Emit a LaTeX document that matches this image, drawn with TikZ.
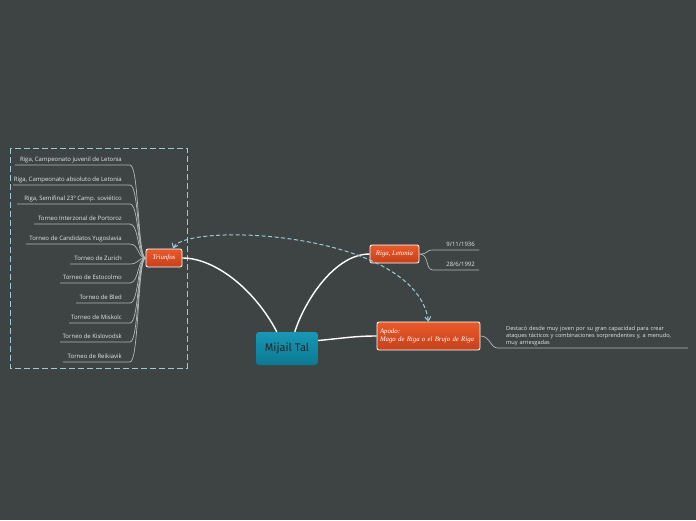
\documentclass[tikz,border=0pt]{standalone}
\usepackage{fontspec}
\setmainfont{Open Sans}
\newfontfamily\handfont{Liberation Serif}
\newfontfamily\titlefont{Fira Sans}
\usetikzlibrary{arrows.meta}
\definecolor{bgcol}{RGB}{62,68,68}
\definecolor{txtcol}{RGB}{228,230,230}
\definecolor{linecol}{RGB}{178,184,184}
\definecolor{dashcol}{RGB}{160,201,214}
\definecolor{orangetop}{RGB}{234,90,42}
\definecolor{orangebot}{RGB}{196,64,28}
\definecolor{tealtop}{RGB}{24,152,182}
\definecolor{tealbot}{RGB}{12,120,146}

\begin{document}
\begin{tikzpicture}[x=1pt, y=-1pt, every node/.style={font=\fontsize{6}{7}\selectfont, text=txtcol, inner sep=0pt},
	topic/.style={draw=white, line width=0.8pt, rounded corners=2pt, top color=orangetop, bottom color=orangebot, font=\handfont\itshape\fontsize{6.8}{7.8}\selectfont, text=white},
	central/.style={rounded corners=3pt, top color=tealtop, bottom color=tealbot, minimum width=62pt, minimum height=33pt, font=\titlefont\fontsize{11}{13}\selectfont, text=black!85},
	branch/.style={linecol, line width=0.7pt},
	mainline/.style={white, line width=1.4pt}]
	\fill[bgcol] (0,0) rectangle (696,520);
	\useasboundingbox (0,0) rectangle (696,520);
	\draw[dashcol, line width=1pt, dash pattern=on 6pt off 3pt] (10,148) rectangle (187,368);
	\node[central] (tal) at (287,348.5) {Mijail Tal};
	\node[topic, minimum width=36pt, minimum height=18pt] (triunfos) at (164,258) {Triunfos};
	\node[topic, minimum width=49pt, minimum height=18pt] (riga) at (394.5,254) {Riga, Letonia};
	\node[topic, minimum width=103pt, minimum height=28pt, align=left, text width=97pt] (apodo) at (428.5,336) {Apodo:\\Mago de Riga o el Brujo de Riga};
	\foreach \i/\y/\xl/\name in {1/165/15/{Riga, Campeonato juvenil de Letonia}, 2/185/13/{Riga, Campeonato absoluto de Letonia}, 3/204/17/{Riga, Semifinal 23º Camp. soviético}, 4/224/34/{Torneo Interzonal de Portoroz}, 5/244/26/{Torneo de Candidatos Yugoslavia}, 6/264/70/{Torneo de Zurich}, 7/283/60/{Torneo de Estocolmo}, 8/303/76/{Torneo de Bled}, 9/323/69/{Torneo de Miskolc}, 10/342/60/{Torneo de Kislovodsk}, 11/362/63/{Torneo de Reikiavik}} {
		\coordinate (ul\i) at (\xl,\y);
		\coordinate (ur\i) at (130,\y);
		\node[anchor=base east] (item\i) at (122,\y-4) {\name};
		\draw[branch] (ul\i) -- (ur\i) .. controls +(9,0) and +(-8,0) .. (triunfos.west);
	}
	\foreach \i/\y/\name in {1/250/{9/11/1936}, 2/270/{28/6/1992}} {
		\coordinate (dl\i) at (433,\y);
		\coordinate (dr\i) at (479,\y);
		\node[anchor=base east] (date\i) at (475,\y-4) {\name};
		\draw[branch] (riga.east) .. controls +(10,0) and +(-8,0) .. (dl\i) -- (dr\i);
	}
	\coordinate (nl) at (498,348);
	\coordinate (nr) at (688,348);
	\node[anchor=north west, text width=170pt, align=left, font=\fontsize{5.6}{6.8}\selectfont] (note) at (506,326) {Destacó desde muy joven por su gran capacidad para crear ataques tácticos y combinaciones sorprendentes y, a menudo, muy arriesgadas};
	\draw[branch] (apodo.east) .. controls +(10,0) and +(-8,0) .. (nl) -- (nr);
	\draw[mainline] (tal.north west) ++(21,0) coordinate (t1) (triunfos.east) .. controls +(33,0) and (255,290) .. (t1);
	\draw[mainline] (tal.north west) ++(39,0) coordinate (t2) (t2) .. controls (305,300) and (335,254) .. (riga.west);
	\draw[mainline] (tal.east) ++(0,-8) coordinate (t3) (t3) .. controls (345,338) and (355,336) .. (apodo.west);
	\draw[dashcol, line width=1pt, dash pattern=on 4pt off 2.5pt, {Straight Barb[length=4pt,width=6pt]}-{Straight Barb[length=4pt,width=6pt]}] (triunfos.north) ++(9,0) coordinate (a1) (a1) .. controls (185,222) and (415,230) .. (apodo.north);
\end{tikzpicture}
\end{document}
